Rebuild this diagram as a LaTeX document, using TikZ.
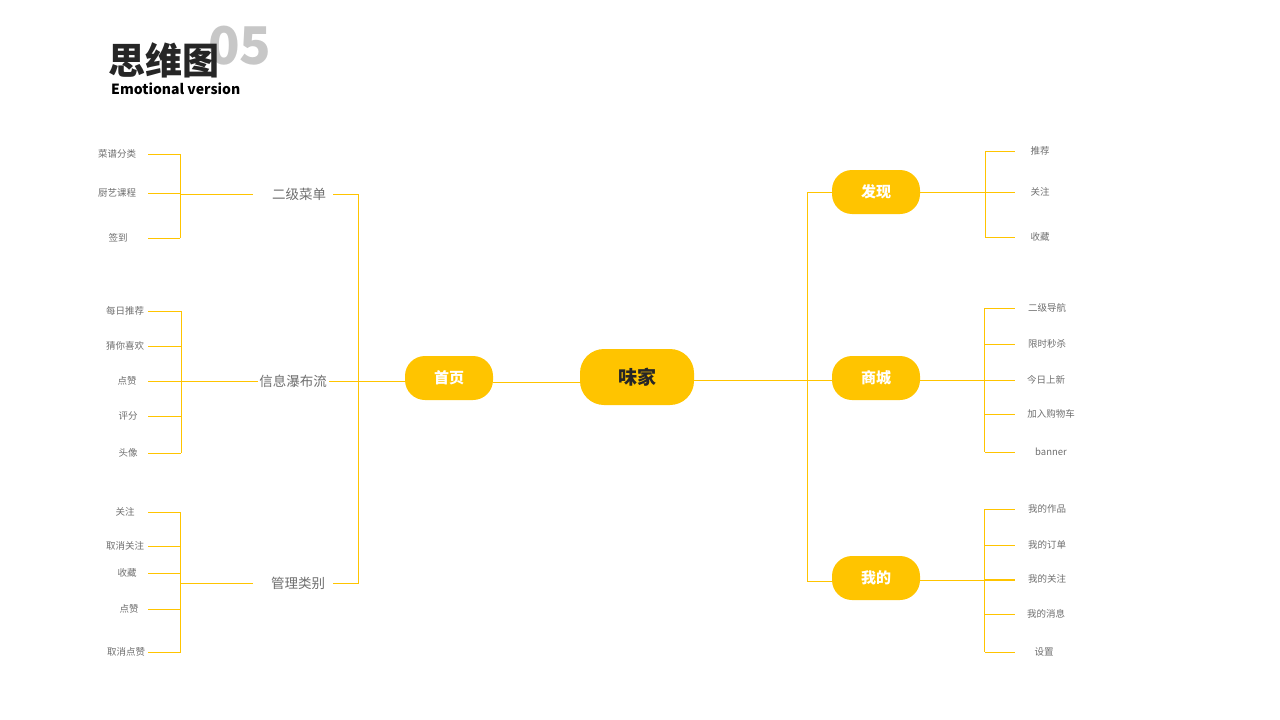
\documentclass[tikz,border=0pt]{standalone}
\usepackage{fontspec}
\setmainfont{Noto Sans CJK SC}
\definecolor{ylw}{HTML}{FFC400}
\definecolor{txtg}{HTML}{6E6E6E}
\begin{document}
\begin{tikzpicture}[x=1pt,y=-1pt,
  pill/.style={draw=none,fill=ylw,rounded corners=20pt,minimum width=88pt,minimum height=44pt,text=white,font=\fontsize{15}{15}\selectfont\bfseries,inner sep=0},
  mid/.style={text=txtg,font=\fontsize{13.5}{14}\selectfont,inner sep=1pt},
  leaf/.style={text=txtg,font=\fontsize{9.5}{10}\selectfont,inner sep=1pt},
  ln/.style={draw=ylw,line width=0.9pt}]
\useasboundingbox (0,0) rectangle (1280,720);
% title
\node[anchor=west,text=black!22,font=\fontsize{52}{52}\selectfont\bfseries,inner sep=0] (n05) at (208,46) {05};
\node[anchor=west,font=\fontsize{37}{37}\selectfont\bfseries,text=black!85,inner sep=0] (tt) at (108,60) {思维图};
\node[anchor=west,font=\fontsize{14}{14}\selectfont\bfseries,inner sep=0] (sub) at (111,89) {Emotional version};
% main nodes
\node[pill,minimum width=114pt,minimum height=56pt,rounded corners=24pt,text=black!85,font=\fontsize{19}{19}\selectfont\bfseries] (c) at (637,377) {味家};
\node[pill] (sy) at (449,378) {首页};
\node[pill] (fx) at (876,192) {发现};
\node[pill] (sc) at (876,378) {商城};
\node[pill] (wd) at (876,578) {我的};
% left mid
\node[mid] (m1) at (299,194) {二级菜单};
\node[mid] (m2) at (293,381) {信息瀑布流};
\node[mid] (m3) at (298,583) {管理类别};
\coordinate (jL) at (358,381);
\draw[ln] (c.west|-0,382) -- (sy.east|-0,382);
\draw[ln] (sy.west|-0,381) -- (jL);
\draw[ln] (333,194) -- (358,194) -- (358,583) -- (333,583);
\draw[ln] (329,381) -- (jL);
% left leaves
\foreach \grp/\vx/\sx/\items in {m1/180/253/{117/154/菜谱分类,117/193/厨艺课程,118/238/签到},
  m2/181/258/{125/311/每日推荐,125/346/猜你喜欢,127/381/点赞,128/416/评分,128/453/头像},
  m3/180/253/{125/512/关注,125/546/取消关注,127/573/收藏,129/609/点赞,126/652/取消点赞}}{
  \draw[ln] (\sx,0|-\grp) coordinate (\grp a) -- (\vx,0|-\grp);
  \foreach \xx/\yy/\tx [count=\i] in \items {
    \node[leaf] (\grp l\i) at (\xx,\yy) {\tx};
    \draw[ln] (148,\yy) -- (\vx,\yy);
  }
}
\draw[ln] (180,154) -- (180,238);
\draw[ln] (181,311) -- (181,453);
\draw[ln] (180,512) -- (180,653);
% right
\coordinate (jR) at (807,380);
\draw[ln] (c.east|-0,380) -- (sc.west|-0,380);
\draw[ln] (fx.west) -- (807,192) -- (807,581) -- (wd.west|-0,581);
\foreach \grp/\yc/\items in {fx/192/{1040/151/推荐,1040/192/关注,1040/237/收藏},
  sc/380/{1047/308/二级导航,1047/344/限时秒杀,1046/380/今日上新,1051/414/加入购物车,1051/452/banner},
  wd/580/{1047/509/我的作品,1047/545/我的订单,1047/579/我的关注,1046/614/我的消息,1044/652/设置}}{
  \draw[ln] (\grp.east|-0,\yc) -- (1015,\yc);
  \foreach \xx/\yy/\tx [count=\i] in \items {
    \node[leaf] (\grp r\i) at (\xx,\yy) {\tx};
    \draw[ln] (985,\yy) -- (1015,\yy);
  }
}
\draw[ln] (985,151) -- (985,237);
\draw[ln] (984,308) -- (984,452);
\draw[ln] (984,509) -- (984,652);
\end{tikzpicture}
\end{document}
